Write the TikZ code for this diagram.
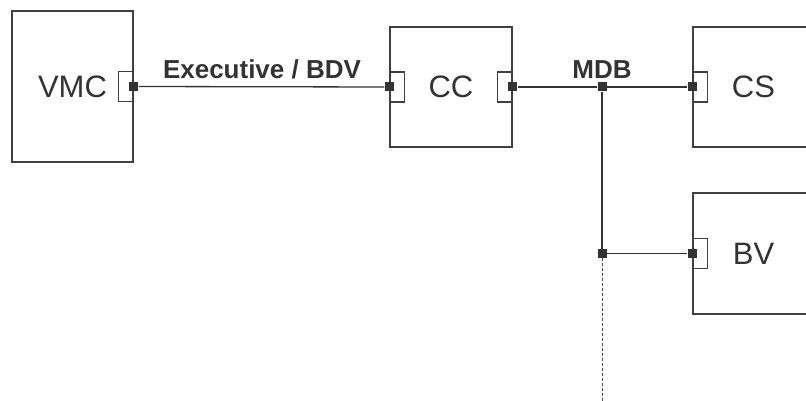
\documentclass[tikz,border=0pt]{standalone}
\usepackage{fontspec}
\setsansfont{Liberation Sans}
\usetikzlibrary{positioning,calc}

\begin{document}
\begin{tikzpicture}[
    x=1pt, y=-1pt,
    font=\sffamily,
    unit/.style={rectangle, draw=black!75, line width=1.8pt, text=black!80, inner sep=0pt, font=\sffamily\fontsize{31}{36}\selectfont},
    port/.style={rectangle, draw=black!75, line width=1.2pt, minimum width=15pt, minimum height=30pt, inner sep=0pt},
    pin/.style={rectangle, fill=black!80, minimum size=9pt, inner sep=0pt},
    bus/.style={draw=black!80, line width=1.3pt},
    tap/.style={draw=black!70, line width=0.9pt, dash pattern=on 3pt off 2pt},
    buslabel/.style={anchor=base, inner sep=0pt, text=black!80, font=\sffamily\bfseries\fontsize{26}{30}\selectfont}
]
\useasboundingbox (0,0) rectangle (806,401);

% Units
\node[unit, minimum width=121pt, minimum height=151pt] (vmc) at (72.5, 86.5) {VMC\hspace{4pt}};
\node[unit, minimum width=122pt, minimum height=120pt] (cc) at (451, 87) {CC};
\node[unit, minimum width=121pt, minimum height=120pt] (cs) at (753.5, 87) {CS};
\node[unit, minimum width=121pt, minimum height=121pt] (bv) at (753.5, 253.5) {BV};

% Ports on the unit edges
\node[port, anchor=east] (vmcPort) at (vmc.east) {};
\node[port, anchor=west] (ccPortIn) at (cc.west) {};
\node[port, anchor=east] (ccPortOut) at (cc.east) {};
\node[port, anchor=west] (csPort) at (cs.west) {};
\node[port, anchor=west] (bvPort) at (bv.west) {};

% Pins
\node[pin] (vmcPin) at (vmc.east) {};
\node[pin] (ccIn) at (cc.west) {};
\node[pin] (ccOut) at (cc.east) {};
\node[pin] (csIn) at (cs.west) {};
\node[pin] (bvIn) at (bv.west) {};
\node[pin] (mdbJ) at (602, 87) {};
\node[pin] (bvJ) at (mdbJ |- bvIn) {};
\coordinate (tapEnd) at (602, 401);

% Executive / BDV link
\draw[bus] (vmcPin) -- (ccIn);
\node[buslabel] (execLbl) at (262, 79) {Executive / BDV};

% MDB bus
\draw[bus] (ccOut) -- (mdbJ) -- (csIn);
\draw[bus] (mdbJ) -- (bvJ) -- (bvIn);
\draw[tap] (bvJ) -- (tapEnd);
\node[buslabel] (mdbLbl) at (602, 79) {MDB};

\end{tikzpicture}
\end{document}
